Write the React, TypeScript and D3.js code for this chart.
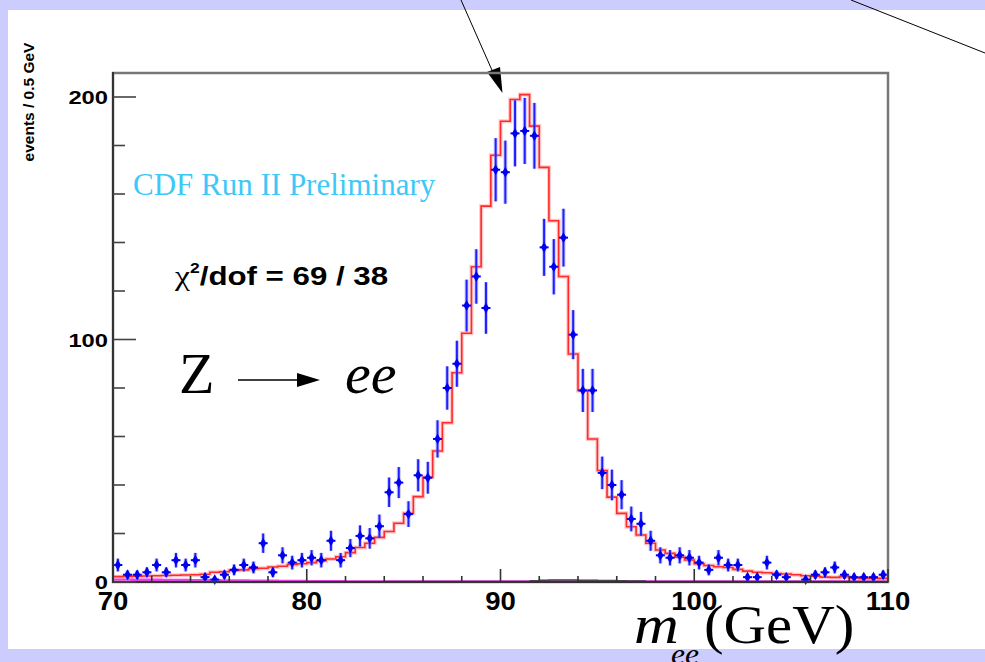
import React from "react";
import * as d3 from "d3";

// ---- data (0.5 GeV bins from 70 to 110 GeV) ----
const binLow = 70;
const binWidth = 0.5;
const counts: number[] = [
  7, 3, 3, 4, 7, 4, 9, 7, 9, 2,
  1, 3, 5, 7, 6, 16, 4, 11, 8, 9,
  10, 9, 17, 9, 14, 19, 18, 23, 37, 41,
  28, 44, 43, 59, 80, 90, 114, 126, 113, 170,
  169, 185, 186, 184, 138, 130, 142, 102, 79, 79,
  45, 40, 36, 26, 24, 17, 11, 10, 11, 10,
  8, 5, 10, 7, 7, 2, 2, 8, 3, 2,
  0, 1, 3, 4, 6, 3, 2, 2, 2, 3,
];
const fit: number[] = [
  2.2, 2.3, 2.4, 2.5, 2.6, 2.7, 2.8, 2.9, 3.0, 3.2,
  4.0, 4.2, 4.8, 5.0, 5.5, 5.7, 6.2, 6.5, 7.2, 7.5,
  8.0, 8.8, 9.5, 10.4, 12.1, 14.2, 16.0, 18.4, 20.8, 24.2,
  28.3, 35.2, 43.2, 54.0, 65.7, 86.3, 102.6, 130, 155, 176,
  190, 199, 201, 188, 171, 149, 126, 94, 79, 59,
  46, 35, 28.3, 22.8, 19.4, 16, 13.2, 11.8, 10.2, 9.1,
  7.5, 6.8, 6.3, 6.0, 5.2, 4.5, 4.0, 3.8, 3.5, 3.3,
  3.0, 2.6, 2.4, 2.0, 1.9, 2.2, 1.7, 1.5, 1.5, 1.5,
];
const bgMagenta: number[] = [
  1.0, 1.0, 0.9, 0.9, 0.9, 0.8, 0.8, 0.8, 0.7, 0.7,
  0.7, 0.6, 0.6, 0.6, 0.5, 0.5, 0.5, 0.4, 0.4, 0.4,
  0.3, 0.3, 0.3, 0.3, 0.2, 0.2, 0.2, 0.2,
];
const bgDark: number[] = [0.5, 0.7, 0.8, 0.8, 0.8, 0.7, 0.7, 0.6, 0.6, 0.5, 0.4, 0.4];
const bgDarkStart = 91.5;

const xTicksMajor = [70, 80, 90, 100, 110];
const yTicksMajor = [0, 100, 200];

const W = 985;
const H = 662;

const x = d3.scaleLinear().domain([70, 110]).range([113, 888]);
const y = d3.scaleLinear().domain([0, 210]).range([582, 72.75]);

function stepPath(vals: number[], start: number): string {
  const pts: [number, number][] = [];
  vals.forEach((v, i) => {
    const a = start + i * binWidth;
    pts.push([a, v]);
    pts.push([a + binWidth, v]);
  });
  const line = d3
    .line<[number, number]>()
    .x((d) => x(d[0]))
    .y((d) => y(d[1]));
  return line(pts) || "";
}

const serif = "'Liberation Serif', 'Times New Roman', serif";
const sans = "'Liberation Sans', Arial, sans-serif";

export default function App() {
  const minorX = d3.range(70, 110.001, 2);
  const minorY = d3.range(0, 200.001, 20);
  const diamond = d3.symbol().type(d3.symbolDiamond).size(34)() || "";

  return (
    <svg
      width={W}
      height={H}
      style={{ position: "absolute", left: 0, top: 0, background: "#ccccff" }}
    >
      <rect x={0} y={0} width={W} height={H} fill="#ccccff" />
      <rect x={8} y={10} width={W - 8} height={639} fill="#ffffff" />

      {/* arrows at top */}
      <line x1={461} y1={0} x2={495} y2={77} stroke="#000" strokeWidth={1} />
      <polygon points="502.5,93 487,72 500,67" fill="#000" />
      <line x1={851} y1={0} x2={985} y2={53} stroke="#000" strokeWidth={1} />

      {/* y label */}
      <text
        transform="translate(34,102) rotate(-90)"
        textAnchor="middle"
        fontFamily={sans}
        fontWeight="bold"
        fontSize={15.5}
        fill="#000"
      >
        events / 0.5 GeV
      </text>

      {/* background histograms */}
      <path d={stepPath(bgMagenta, binLow)} fill="none" stroke="#ff33ff" strokeWidth={2.5} />
      <line x1={x(84)} x2={x(110)} y1={y(0.3)} y2={y(0.3)} stroke="#e020e0" strokeWidth={2} />
      <path d={stepPath(bgDark, bgDarkStart)} fill="none" stroke="#443344" strokeWidth={1.5} />

      {/* fit histogram */}
      <path d={stepPath(fit, binLow)} fill="none" stroke="#ffb0b0" strokeWidth={4} opacity={0.7} />
      <path d={stepPath(fit, binLow)} fill="none" stroke="#ff2a2a" strokeWidth={1.6} />

      {/* data points */}
      {counts.map((c, i) => {
        if (c <= 0) return null;
        const m = binLow + (i + 0.5) * binWidth;
        const e = Math.sqrt(c);
        const cx = x(m);
        return (
          <g key={i}>
            <line x1={cx} x2={cx} y1={y(c + e)} y2={y(Math.max(c - e, 0))} stroke="#8080ff" strokeWidth={4} opacity={0.45} />
            <line x1={cx} x2={cx} y1={y(c + e)} y2={y(Math.max(c - e, 0))} stroke="#2020ff" strokeWidth={2} />
            <line x1={cx - 4.5} x2={cx + 4.5} y1={y(c)} y2={y(c)} stroke="#0000ff" strokeWidth={2} />
            <path d={diamond} transform={`translate(${cx},${y(c)})`} fill="#0000ee" />
          </g>
        );
      })}

      {/* frame */}
      <rect x={113} y={73} width={775} height={509} fill="none" stroke="#777" strokeWidth={2.5} />
      <line x1={113} x2={113} y1={72} y2={583} stroke="#333" strokeWidth={2} />
      <line x1={113} x2={888} y1={582} y2={582} stroke="#333" strokeWidth={2} />

      {/* y ticks */}
      {minorY.map((v) => (
        <line
          key={"yt" + v}
          x1={113}
          x2={113 + (v % 100 === 0 ? 23 : 12)}
          y1={y(v)}
          y2={y(v)}
          stroke="#444"
          strokeWidth={1.6}
        />
      ))}
      {/* x ticks */}
      {minorX.map((v) => (
        <line
          key={"xt" + v}
          x1={x(v)}
          x2={x(v)}
          y1={582}
          y2={582 - (v % 10 === 0 ? 13 : 6)}
          stroke="#333"
          strokeWidth={1.6}
        />
      ))}

      {/* tick labels */}
      {yTicksMajor.map((v) => (
        <text
          key={"yl" + v}
          transform={`translate(108,${y(v) + 7}) scale(1.25,1)`}
          textAnchor="end"
          fontFamily={sans}
          fontWeight="bold"
          fontSize={19}
          fill="#000"
        >
          {v}
        </text>
      ))}
      {xTicksMajor.map((v) => (
        <text
          key={"xl" + v}
          transform={`translate(${x(v)},610) scale(1.1,1)`}
          textAnchor="middle"
          fontFamily={sans}
          fontWeight="bold"
          fontSize={25}
          fill="#000"
        >
          {v}
        </text>
      ))}

      {/* annotations */}
      <text x={133} y={195} fontFamily={serif} fontSize={31} fill="#3ec8f8">
        CDF Run II Preliminary
      </text>

      <g transform="translate(175,285) scale(1.25,1)">
        <text fontFamily={sans} fontWeight="bold" fontSize={25} fill="#000">
          <tspan fontFamily={serif} fontWeight="normal" fontSize={27}>χ</tspan>
          <tspan fontSize={14} dy={-12}>2</tspan>
          <tspan dy={12}>/dof = 69 / 38</tspan>
        </text>
      </g>

      <text x={179} y={393} fontFamily={serif} fontSize={58} fill="#000">Z</text>
      <line x1={238} x2={300} y1={380} y2={380} stroke="#000" strokeWidth={1.3} />
      <polygon points="320,380 297,373 297,387" fill="#000" />
      <text x={345} y={393} fontFamily={serif} fontStyle="italic" fontSize={58} fill="#000">ee</text>

      <text transform="translate(634,643) scale(1.15,1)" fontFamily={serif} fontStyle="italic" fontSize={54} fill="#000">m</text>
      <text transform="translate(671,664) scale(1.05,1)" fontFamily={serif} fontStyle="italic" fontSize={30} fill="#000">ee</text>
      <text transform="translate(704,643) scale(1.09,1)" fontFamily={serif} fontSize={54} fill="#000">(GeV)</text>
    </svg>
  );
}
